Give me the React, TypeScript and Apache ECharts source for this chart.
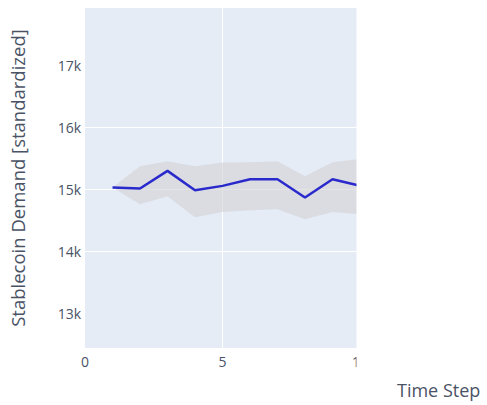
import React, { useEffect, useRef } from "react";
import * as echarts from "echarts";

const steps = [1, 2, 3, 4, 5, 6, 7, 8, 9, 10];
const meanDemand = [15027, 15010, 15295, 14984, 15053, 15161, 15161, 14866, 15161, 15055];
const upperBand = [15027, 15370, 15450, 15370, 15430, 15435, 15450, 15210, 15435, 15485];
const lowerBand = [15027, 14758, 14887, 14548, 14630, 14660, 14677, 14516, 14630, 14597];
const yTicks = [13000, 14000, 15000, 16000, 17000];
const xTicks = [0, 5, 10];

export default function App() {
  const ref = useRef<HTMLDivElement>(null);
  useEffect(() => {
    if (!ref.current) return;
    const chart = echarts.init(ref.current, null, { renderer: "svg" });
    const font = "Open Sans";
    const textColor = "#4a5366";
    chart.setOption({
      animation: false,
      grid: {
        left: 84,
        top: 8,
        right: 127,
        bottom: 57,
        show: true,
        backgroundColor: "#e5ecf6",
        borderWidth: 0,
      },
      xAxis: {
        type: "value",
        min: 0,
        max: 10,
        interval: 5,
        name: "Time Step",
        nameLocation: "end",
        nameGap: 37,
        nameTextStyle: {
          fontFamily: font,
          fontSize: 18,
          color: textColor,
          align: "left",
          verticalAlign: "top",
          padding: [33, 0, 0, 0],
        },
        axisLine: { show: false },
        axisTick: { show: false },
        axisLabel: {
          customValues: xTicks,
          fontFamily: font,
          fontSize: 14,
          color: textColor,
          margin: 6,
        },
        splitLine: {
          show: true,
          showMinLine: false,
          showMaxLine: false,
          lineStyle: { color: "#ffffff", width: 1 },
        },
      },
      yAxis: {
        type: "value",
        min: 12440,
        max: 17920,
        name: "Stablecoin Demand [standardized]",
        nameLocation: "middle",
        nameGap: 58,
        nameTextStyle: { fontFamily: font, fontSize: 18.5, color: textColor },
        axisLine: { show: false },
        axisTick: { show: false, customValues: yTicks },
        axisLabel: {
          customValues: yTicks,
          fontFamily: font,
          fontSize: 14,
          color: textColor,
          margin: 4,
          formatter: (v: number) => `${Math.round(v / 1000)}k`,
        },
        splitLine: {
          show: true,
          showMinLine: false,
          showMaxLine: false,
          lineStyle: { color: "#ffffff", width: 1 },
        },
      },
      series: [
        {
          type: "custom",
          data: [0],
          silent: true,
          clip: true,
          renderItem: (params: any, api: any) => {
            const top = steps.map((s, i) => api.coord([s, upperBand[i]]));
            const bottom = steps
              .map((s, i) => api.coord([s, lowerBand[i]]))
              .reverse();
            return {
              type: "polygon",
              shape: { points: top.concat(bottom) },
              style: { fill: "rgba(210,210,212,0.6)", stroke: "none" },
            };
          },
        },
        {
          type: "line",
          data: steps.map((s, i) => [s, meanDemand[i]]),
          symbol: "none",
          lineStyle: { color: "#2a2acc", width: 2.5 },
          z: 3,
        },
      ],
      graphic: [
        {
          type: "rect",
          z: 100,
          shape: { x: 356.5, y: 0, width: 30, height: 378 },
          style: { fill: "#ffffff" },
        },
      ],
    });
    return () => chart.dispose();
  }, []);
  return (
    <div
      ref={ref}
      style={{ position: "absolute", left: 0, top: 0, width: 487, height: 405 }}
    />
  );
}
